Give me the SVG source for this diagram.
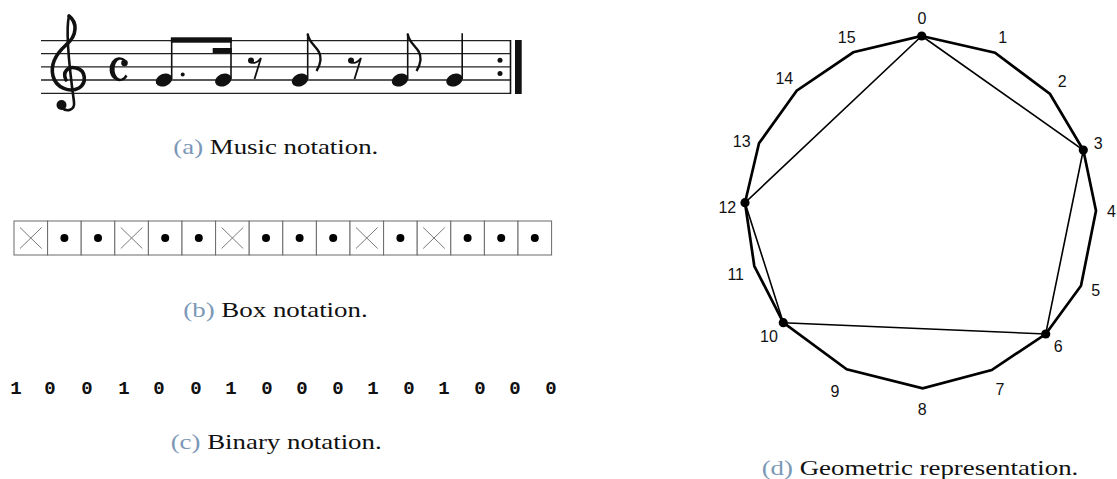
<svg xmlns="http://www.w3.org/2000/svg" width="1117" height="479" viewBox="0 0 1117 479">
<style>
.cap{font-family:"Liberation Serif","DejaVu Serif",serif;font-size:21.5px;fill:#111}
.lab{fill:#7b98b6}
.staff{stroke:#222;stroke-width:1.3}
.stem{stroke:#111;stroke-width:1.6}
.head{fill:#111}
.cell{fill:#fff;stroke:#6a6a6a;stroke-width:1}
.x{stroke:#7a7a7a;stroke-width:1}
.bin{font-family:"Liberation Mono","Courier New",monospace;font-weight:bold;font-size:19px;fill:#111;text-anchor:middle}
.num{font-family:"Liberation Sans",Arial,sans-serif;font-size:16px;fill:#111;text-anchor:middle}
.poly{fill:none;stroke:#000;stroke-width:2.7;stroke-linejoin:miter}
.chord{fill:none;stroke:#000;stroke-width:1.6}
.pt{fill:#000}
</style>
<rect width="1117" height="479" fill="#fff"/>

<!-- (a) Music notation -->
<g id="music">
  <g id="staff">
    <line class="staff" x1="41" y1="40.7" x2="510" y2="40.7"/>
    <line class="staff" x1="41" y1="53.6" x2="510" y2="53.6"/>
    <line class="staff" x1="41" y1="66.8" x2="510" y2="66.8"/>
    <line class="staff" x1="41" y1="80" x2="510" y2="80"/>
    <line class="staff" x1="41" y1="93.3" x2="510" y2="93.3"/>
  </g>
  <g id="clef" fill="none" stroke="#111" stroke-linecap="round">
    <path d="M69 16 C65 32 71 80 74 102 C75 110 67 113 61 107" stroke-width="2.6"/>
    <path d="M69 16 C77 22 78 35 66 45 C56 54 50 64 53 76 C56 88 70 93 79 88 C87 83 86 70 76 68 C68 66 62 72 66 80" stroke-width="3.6"/>
    <circle cx="61.5" cy="105" r="5" fill="#111" stroke="none"/>
  </g>
  <g id="common-time" fill="#111">
    <path d="M126 60 A10 12 0 1 0 127.5 76.5 L125.5 74.5 A6 9.5 0 1 1 124 61.5 Z"/>
    <circle cx="124.5" cy="63" r="3.3"/>
  </g>
  <g id="notes">
    <ellipse class="head" cx="164" cy="80" rx="8.5" ry="6.2" transform="rotate(-22 164 80)"/>
    <line class="stem" x1="171.7" y1="79" x2="171.7" y2="38"/>
    <circle class="head" cx="182.7" cy="74.5" r="2"/>
    <ellipse class="head" cx="223.3" cy="80" rx="8.5" ry="6.2" transform="rotate(-22 223.3 80)"/>
    <line class="stem" x1="231" y1="79" x2="231" y2="38"/>
    <rect x="170.9" y="37.3" width="60.9" height="5.4" fill="#111"/>
    <rect x="212.7" y="48" width="19.1" height="5" fill="#111"/>
    <g id="rest1">
      <circle cx="251" cy="60.5" r="3" fill="#111"/>
      <path d="M250 62 Q256 65 261 58 L254.5 79" fill="none" stroke="#111" stroke-width="1.8"/>
    </g>
    <ellipse class="head" cx="300" cy="80" rx="8.5" ry="6.2" transform="rotate(-22 300 80)"/>
    <line class="stem" x1="307.7" y1="79" x2="307.7" y2="33.3"/>
    <path d="M307.7 33.8 C309 45 321.5 48 320.5 60 C320 65 318.5 68 316.5 71" fill="none" stroke="#111" stroke-width="2.4"/>
    <g id="rest2">
      <circle cx="351" cy="60.5" r="3" fill="#111"/>
      <path d="M350 62 Q356 65 361 58 L354.5 79" fill="none" stroke="#111" stroke-width="1.8"/>
    </g>
    <ellipse class="head" cx="400" cy="80" rx="8.5" ry="6.2" transform="rotate(-22 400 80)"/>
    <line class="stem" x1="407.7" y1="79" x2="407.7" y2="33.3"/>
    <path d="M407.7 33.8 C409 45 421.5 48 420.5 60 C420 65 418.5 68 416.5 71" fill="none" stroke="#111" stroke-width="2.4"/>
    <ellipse class="head" cx="454.5" cy="80" rx="8.5" ry="6.2" transform="rotate(-22 454.5 80)"/>
    <line class="stem" x1="462.2" y1="79" x2="462.2" y2="33.3"/>
  </g>
  <g id="repeat-bar">
    <circle cx="500" cy="60.2" r="2.5" fill="#111"/>
    <circle cx="500" cy="73.4" r="2.5" fill="#111"/>
    <line x1="510.5" y1="40" x2="510.5" y2="94" stroke="#111" stroke-width="1.6"/>
    <rect x="515" y="40" width="6.7" height="54" fill="#111"/>
  </g>
  <text class="cap" x="173.3" y="154.3" textLength="205" lengthAdjust="spacingAndGlyphs"><tspan class="lab">(a)</tspan> Music notation.</text>
</g>

<!-- (b) Box notation -->
<g id="boxes">
  <rect class="cell" x="14" y="221" width="33.6" height="34"/>
  <rect class="cell" x="47.6" y="221" width="33.6" height="34"/>
  <rect class="cell" x="81.2" y="221" width="33.6" height="34"/>
  <rect class="cell" x="114.8" y="221" width="33.6" height="34"/>
  <rect class="cell" x="148.4" y="221" width="33.6" height="34"/>
  <rect class="cell" x="182" y="221" width="33.6" height="34"/>
  <rect class="cell" x="215.6" y="221" width="33.6" height="34"/>
  <rect class="cell" x="249.2" y="221" width="33.6" height="34"/>
  <rect class="cell" x="282.8" y="221" width="33.6" height="34"/>
  <rect class="cell" x="316.4" y="221" width="33.6" height="34"/>
  <rect class="cell" x="350" y="221" width="33.6" height="34"/>
  <rect class="cell" x="383.6" y="221" width="33.6" height="34"/>
  <rect class="cell" x="417.2" y="221" width="33.6" height="34"/>
  <rect class="cell" x="450.8" y="221" width="33.6" height="34"/>
  <rect class="cell" x="484.4" y="221" width="33.6" height="34"/>
  <rect class="cell" x="518" y="221" width="33.6" height="34"/>
  <g id="crosses">
    <path class="x" d="M20 227.5 L41.6 248.5 M41.6 227.5 L20 248.5"/>
    <path class="x" d="M120.8 227.5 L142.4 248.5 M142.4 227.5 L120.8 248.5"/>
    <path class="x" d="M221.6 227.5 L243.2 248.5 M243.2 227.5 L221.6 248.5"/>
    <path class="x" d="M356 227.5 L377.6 248.5 M377.6 227.5 L356 248.5"/>
    <path class="x" d="M423.2 227.5 L444.8 248.5 M444.8 227.5 L423.2 248.5"/>
  </g>
  <g id="dots" fill="#000">
    <circle cx="64.4" cy="238" r="4"/>
    <circle cx="98" cy="238" r="4"/>
    <circle cx="165.2" cy="238" r="4"/>
    <circle cx="198.8" cy="238" r="4"/>
    <circle cx="266" cy="238" r="4"/>
    <circle cx="299.6" cy="238" r="4"/>
    <circle cx="333.2" cy="238" r="4"/>
    <circle cx="400.4" cy="238" r="4"/>
    <circle cx="467.6" cy="238" r="4"/>
    <circle cx="501.2" cy="238" r="4"/>
    <circle cx="534.8" cy="238" r="4"/>
  </g>
  <text class="cap" x="183.3" y="316.5" textLength="184.4" lengthAdjust="spacingAndGlyphs"><tspan class="lab">(b)</tspan> Box notation.</text>
</g>

<!-- (c) Binary notation -->
<g id="binary">
  <text class="bin" x="16" y="393.5">1</text>
  <text class="bin" x="50" y="393.5">0</text>
  <text class="bin" x="87" y="393.5">0</text>
  <text class="bin" x="124" y="393.5">1</text>
  <text class="bin" x="159" y="393.5">0</text>
  <text class="bin" x="196" y="393.5">0</text>
  <text class="bin" x="231" y="393.5">1</text>
  <text class="bin" x="267" y="393.5">0</text>
  <text class="bin" x="302" y="393.5">0</text>
  <text class="bin" x="338" y="393.5">0</text>
  <text class="bin" x="373" y="393.5">1</text>
  <text class="bin" x="409" y="393.5">0</text>
  <text class="bin" x="444" y="393.5">1</text>
  <text class="bin" x="480" y="393.5">0</text>
  <text class="bin" x="515" y="393.5">0</text>
  <text class="bin" x="551" y="393.5">0</text>
  <text class="cap" x="170.7" y="449.3" textLength="211" lengthAdjust="spacingAndGlyphs"><tspan class="lab">(c)</tspan> Binary notation.</text>
</g>

<!-- (d) Geometric representation -->
<g id="geometric">
  <g id="connectors">
    <polygon class="poly" points="921.7,36 995,52.7 1050,94 1083.3,150 1096,210.7 1081,285.7 1045.7,334 991.7,370 922.7,388.3 846.7,369.3 783.3,322.7 754.3,266 745,202.7 759,143.3 796.7,90.7 853.3,52.3"/>
    <polygon class="chord" points="921.7,36 1083.3,150 1045.7,334 783.3,322.7 745,202.7"/>
  </g>
  <g id="v0"><circle class="pt" cx="921.7" cy="36" r="4.6"/><text class="num" x="922" y="24.2">0</text></g>
  <g id="v1"><text class="num" x="1002.7" y="43.3">1</text></g>
  <g id="v2"><text class="num" x="1062.3" y="87.3">2</text></g>
  <g id="v3"><circle class="pt" cx="1083.3" cy="150" r="4.6"/><text class="num" x="1098.3" y="149">3</text></g>
  <g id="v4"><text class="num" x="1111.5" y="216.7">4</text></g>
  <g id="v5"><text class="num" x="1095.7" y="295.7">5</text></g>
  <g id="v6"><circle class="pt" cx="1045.7" cy="334" r="4.6"/><text class="num" x="1058.3" y="351.7">6</text></g>
  <g id="v7"><text class="num" x="1000" y="395">7</text></g>
  <g id="v8"><text class="num" x="922.3" y="415">8</text></g>
  <g id="v9"><text class="num" x="835" y="396.7">9</text></g>
  <g id="v10"><circle class="pt" cx="783.3" cy="322.7" r="4.6"/><text class="num" x="769" y="341.7">10</text></g>
  <g id="v11"><text class="num" x="735.7" y="280">11</text></g>
  <g id="v12"><circle class="pt" cx="745" cy="202.7" r="4.6"/><text class="num" x="727.3" y="213.3">12</text></g>
  <g id="v13"><text class="num" x="741.7" y="146.7">13</text></g>
  <g id="v14"><text class="num" x="784.3" y="84">14</text></g>
  <g id="v15"><text class="num" x="846.7" y="43.3">15</text></g>
  <text class="cap" x="761.7" y="475" textLength="316.6" lengthAdjust="spacingAndGlyphs"><tspan class="lab">(d)</tspan> Geometric representation.</text>
</g>
</svg>
